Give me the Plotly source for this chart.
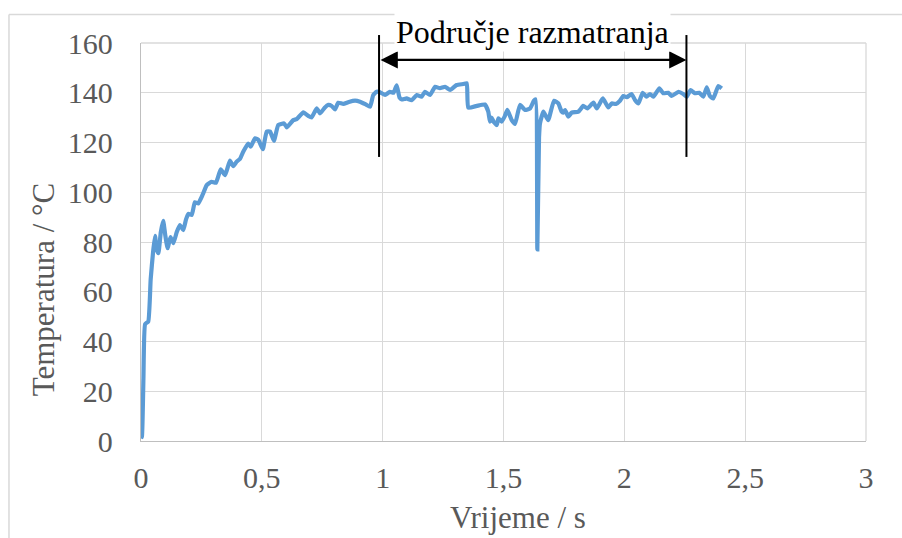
import plotly.graph_objects as go

# Measured temperature over time
time_s = [0.000, 0.004, 0.010, 0.017, 0.030, 0.040, 0.050, 0.058, 0.065, 0.072, 0.082, 0.092,
          0.100, 0.110, 0.122, 0.134, 0.148, 0.161, 0.175, 0.186, 0.196, 0.210, 0.223, 0.237,
          0.255, 0.272, 0.292, 0.310, 0.330, 0.348, 0.368, 0.382, 0.396, 0.410, 0.423, 0.444,
          0.454, 0.472, 0.486, 0.504, 0.520, 0.534, 0.550, 0.568, 0.592, 0.603, 0.630, 0.644,
          0.672, 0.692, 0.706, 0.727, 0.741, 0.760, 0.775, 0.789, 0.803, 0.816, 0.837, 0.860,
          0.886, 0.906, 0.930, 0.948, 0.961, 0.975, 0.989, 1.010, 1.030, 1.045, 1.058, 1.070,
          1.079, 1.099, 1.120, 1.141, 1.161, 1.175, 1.196, 1.217, 1.237, 1.258, 1.279, 1.306,
          1.334, 1.348, 1.354, 1.389, 1.423, 1.437, 1.444, 1.451, 1.458, 1.465, 1.472, 1.479,
          1.492, 1.505, 1.516, 1.534, 1.548, 1.568, 1.589, 1.610, 1.626, 1.633, 1.640, 1.647,
          1.651, 1.665, 1.685, 1.709, 1.727, 1.740, 1.747, 1.755, 1.768, 1.782, 1.810, 1.830,
          1.847, 1.872, 1.886, 1.911, 1.934, 1.948, 1.965, 1.982, 1.996, 2.010, 2.030, 2.044,
          2.058, 2.076, 2.092, 2.106, 2.120, 2.145, 2.161, 2.182, 2.196, 2.224, 2.244, 2.258,
          2.274, 2.292, 2.310, 2.327, 2.341, 2.354, 2.368, 2.389, 2.403]
temp_c = [1.0, 2.0, 25.0, 47.0, 48.0, 65.0, 76.0, 82.5, 77.0, 75.5, 84.0, 88.5,
          83.0, 77.5, 82.0, 79.5, 84.0, 86.8, 84.8, 89.0, 91.3, 90.9, 96.0, 95.5,
          99.0, 102.9, 104.2, 103.8, 109.2, 106.9, 112.7, 110.5, 112.3, 113.5, 116.3, 119.6,
          118.3, 121.7, 121.0, 117.3, 124.4, 124.4, 120.7, 127.0, 127.7, 126.1, 129.0, 129.4,
          132.1, 130.7, 130.1, 133.7, 131.7, 134.0, 135.1, 134.7, 133.3, 136.0, 135.5, 136.3,
          136.8, 136.4, 135.3, 134.4, 139.1, 140.4, 140.2, 139.1, 140.4, 140.0, 143.0, 138.0,
          137.3, 137.7, 137.0, 139.1, 138.4, 140.4, 139.1, 142.4, 141.8, 142.4, 141.1, 143.1,
          143.5, 143.8, 134.0, 134.7, 135.3, 132.4, 128.4, 130.0, 128.5, 127.7, 127.0, 129.7,
          128.4, 130.5, 133.1, 129.0, 127.5, 135.1, 133.1, 133.7, 136.8, 137.3, 77.0, 122.0,
          127.7, 132.4, 129.0, 136.8, 135.7, 132.5, 132.0, 133.0, 130.4, 132.0, 132.4, 134.7,
          133.7, 136.0, 133.7, 137.7, 134.1, 135.7, 135.5, 136.8, 138.7, 138.2, 139.5, 137.1,
          135.7, 140.0, 138.4, 139.5, 138.4, 141.8, 139.8, 140.0, 138.7, 140.4, 139.5, 138.4,
          141.1, 139.8, 140.0, 138.4, 142.2, 138.7, 137.7, 142.7, 141.8]

x_ticks = [0, 0.5, 1, 1.5, 2, 2.5, 3]
x_tick_text = ["0", "0,5", "1", "1,5", "2", "2,5", "3"]
y_ticks = [0, 20, 40, 60, 80, 100, 120, 140, 160]
y_tick_text = ["0", "20", "40", "60", "80", "100", "120", "140", "160"]

# Bounds of the region of interest
region_start = 0.985
region_end = 2.257
region_label = "Područje razmatranja"

FONT = "Times New Roman, Liberation Serif, serif"
GRID = "#d9d9d9"
TEXT = "#595959"
Y_MAX = 160

fig = go.Figure()
fig.add_trace(go.Scatter(
    x=time_s, y=temp_c, mode="lines",
    line=dict(color="#5b9bd5", width=4.2, shape="spline", smoothing=0.4),
    showlegend=False, hoverinfo="skip",
))

fig.update_layout(
    width=902, height=538,
    margin=dict(l=141, r=36, t=43, b=97),
    paper_bgcolor="white", plot_bgcolor="white",
    font=dict(family=FONT, size=30, color=TEXT),
    xaxis=dict(
        range=[0, 3], tickvals=x_ticks, ticktext=x_tick_text,
        showgrid=True, gridcolor=GRID, gridwidth=1.3,
        zeroline=False, showline=True, linecolor="#bfbfbf", linewidth=1.3,
        ticks="outside", ticklen=10, tickcolor="rgba(0,0,0,0)",
        tickfont=dict(family=FONT, size=30, color=TEXT),
    ),
    yaxis=dict(
        range=[0, Y_MAX], tickvals=y_ticks, ticktext=y_tick_text,
        showgrid=True, gridcolor=GRID, gridwidth=1.3,
        zeroline=False, showline=True, linecolor="#bfbfbf", linewidth=1.3,
        ticks="outside", ticklen=21, tickcolor="rgba(0,0,0,0)",
        tickfont=dict(family=FONT, size=30, color=TEXT),
    ),
)

# Chart frame (top and left edges) plus plot-area top/right border
fig.add_shape(type="line", xref="paper", yref="paper", x0=-0.1821, x1=1.1, y0=1.0716, y1=1.0716,
              line=dict(color=GRID, width=1.5), layer="below")
fig.add_shape(type="line", xref="paper", yref="paper", x0=-0.1821, x1=-0.1821, y0=1.0716, y1=-0.3,
              line=dict(color=GRID, width=1.5), layer="below")
fig.add_shape(type="line", xref="paper", yref="paper", x0=0, x1=1, y0=1, y1=1,
              line=dict(color=GRID, width=1.3), layer="below")
fig.add_shape(type="line", xref="paper", yref="paper", x0=1, x1=1, y0=0, y1=1,
              line=dict(color=GRID, width=1.3), layer="below")

# Vertical markers bounding the region
for xv in (region_start, region_end):
    fig.add_shape(type="line", xref="x", yref="paper", x0=xv, x1=xv,
                  y0=114.2 / Y_MAX, y1=163.2 / Y_MAX,
                  line=dict(color="black", width=2))

# Double-headed arrow across the region
fig.add_annotation(x=region_end, y=153.2, ax=region_start, ay=153.2,
                   xref="x", yref="y", axref="x", ayref="y",
                   text="", showarrow=True, arrowside="end+start",
                   arrowhead=2, arrowsize=1.5, arrowwidth=2.3, arrowcolor="black",
                   standoff=0, startstandoff=0)

fig.add_annotation(x=(region_start + region_end) / 2, y=164.5 / Y_MAX, xref="x", yref="paper",
                   text=region_label, showarrow=False, bgcolor="white",
                   font=dict(family=FONT, size=32, color="black"),
                   xanchor="center", yanchor="middle")

# Axis titles
fig.add_annotation(x=0.52, y=-0.191, xref="paper", yref="paper",
                   text="Vrijeme / s", showarrow=False,
                   font=dict(family=FONT, size=31, color=TEXT),
                   xanchor="center", yanchor="middle")
fig.add_annotation(x=-0.135, y=0.379, xref="paper", yref="paper",
                   text="Temperatura / °C", showarrow=False, textangle=-90,
                   font=dict(family=FONT, size=31, color=TEXT),
                   xanchor="center", yanchor="middle")

fig.write_html("out.html")
